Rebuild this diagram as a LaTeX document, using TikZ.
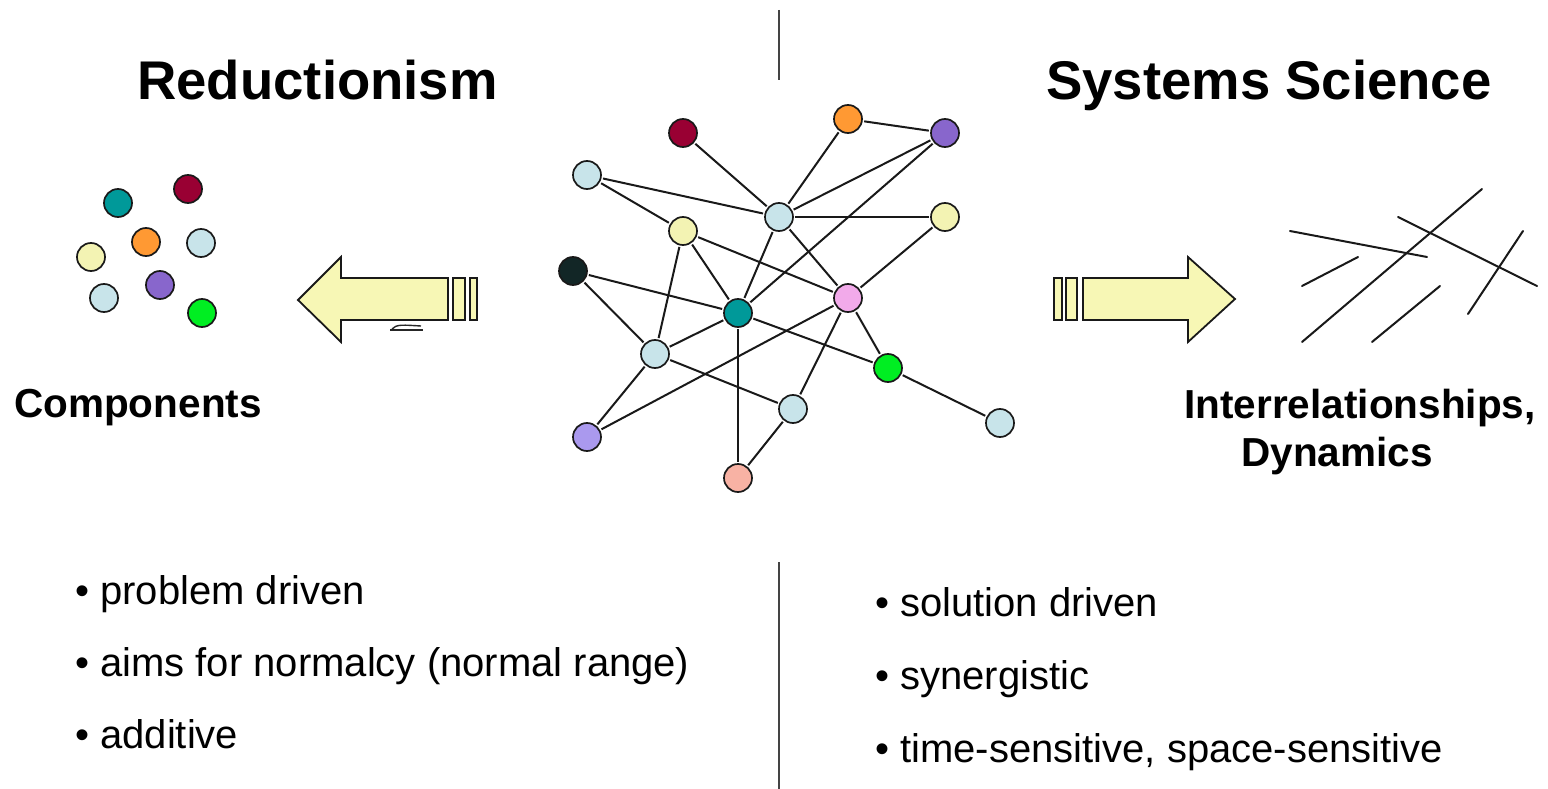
\documentclass[tikz,border=0pt]{standalone}
\usepackage{fontspec}
\setmainfont{Liberation Sans}
\definecolor{cMaroon}{HTML}{990033}
\definecolor{cOrange}{HTML}{FF9933}
\definecolor{cPurple}{HTML}{8866CC}
\definecolor{cLblue}{HTML}{C8E4EA}
\definecolor{cYellow}{HTML}{F3F3B3}
\definecolor{cBlack}{HTML}{122626}
\definecolor{cTeal}{HTML}{009999}
\definecolor{cPink}{HTML}{F2AAEA}
\definecolor{cGreen}{HTML}{00EE22}
\definecolor{cLav}{HTML}{AA99EE}
\definecolor{cSalmon}{HTML}{F8B2A4}
\definecolor{cArrow}{HTML}{F7F7B5}
\definecolor{cDiv}{HTML}{444444}
\begin{document}
\begin{tikzpicture}[x=1pt,y=-1pt,
  dot/.style={circle,draw=black!90,line width=1.7pt,minimum size=28pt,inner sep=0pt},
  link/.style={line width=2pt,draw=black!90,shorten >=1.5pt,shorten <=1.5pt},
  sketchline/.style={line width=2pt,draw=black!90,line cap=round},
  divider/.style={line width=2pt,draw=cDiv},
  arrowbody/.style={fill=cArrow,draw=black!90,line width=1.8pt,line join=miter},
  titletext/.style={font=\fontsize{54.5}{60}\selectfont\bfseries,anchor=base,inner sep=0pt},
  labeltext/.style={font=\fontsize{40.5}{48}\selectfont\bfseries,anchor=base,inner sep=0pt},
  bullettext/.style={font=\fontsize{40}{46}\selectfont,anchor=base west,inner sep=0pt}]
\useasboundingbox (0,0) rectangle (1548,789);
\fill[white] (0,0) rectangle (1548,789);

% dividers
\coordinate (dTop1) at (779,10);
\coordinate (dTop2) at (779,80);
\coordinate (dBot1) at (779,562);
\coordinate (dBot2) at (779,789);
\draw[divider] (dTop1) -- (dTop2);
\draw[divider] (dBot1) -- (dBot2);

% titles
\node[titletext] (tRed) at (317.5,100) {Reductionism};
\node[titletext] (tSys) at (1269,100) {Systems Science};
\node[labeltext] (lComp) at (138,417) {Components};
\node[labeltext] (lInter) at (1360,418) {Interrelationships,};
\node[labeltext] (lDyn) at (1337,466) {Dynamics};

% left cluster
\node[dot,fill=cTeal]   (c1) at (118,203) {};
\node[dot,fill=cMaroon] (c2) at (188,189) {};
\node[dot,fill=cOrange] (c3) at (146,242) {};
\node[dot,fill=cLblue]  (c4) at (201,243) {};
\node[dot,fill=cYellow] (c5) at (91,257) {};
\node[dot,fill=cLblue]  (c6) at (104,298) {};
\node[dot,fill=cPurple] (c7) at (160,285) {};
\node[dot,fill=cGreen]  (c8) at (202,313) {};

% left arrow
\draw[arrowbody] (298,300) -- (341,257) -- (341,278) -- (448,278) -- (448,320) -- (341,320) -- (341,342) -- cycle;
\draw[arrowbody] (453,278) rectangle (465,320);
\draw[arrowbody] (470,278) rectangle (477,320);
\draw[line width=1.4pt,black!85] (390,330) -- (423,330);
\draw[line width=1.4pt,black!85] (392,329) .. controls (396,324) and (404,325) .. (421,326);

% right arrow
\draw[arrowbody] (1054,278) rectangle (1062,320);
\draw[arrowbody] (1066,278) rectangle (1077,320);
\draw[arrowbody] (1083,278) -- (1188,278) -- (1188,257) -- (1235,299) -- (1188,342) -- (1188,320) -- (1083,320) -- cycle;

% right sketch
\coordinate (s1a) at (1290,231); \coordinate (s1b) at (1427,257);
\coordinate (s2a) at (1398,217); \coordinate (s2b) at (1537,286);
\coordinate (s3a) at (1482,189); \coordinate (s3b) at (1302,342);
\coordinate (s4a) at (1358,257); \coordinate (s4b) at (1302,286);
\coordinate (s5a) at (1440,286); \coordinate (s5b) at (1372,342);
\coordinate (s6a) at (1523,231); \coordinate (s6b) at (1468,314);
\draw[sketchline] (s1a) -- (s1b);
\draw[sketchline] (s2a) -- (s2b);
\draw[sketchline] (s3a) -- (s3b);
\draw[sketchline] (s4a) -- (s4b);
\draw[sketchline] (s5a) -- (s5b);
\draw[sketchline] (s6a) -- (s6b);

% network nodes
\node[dot,fill=cMaroon] (m)   at (683,133) {};
\node[dot,fill=cOrange] (o)   at (848,119) {};
\node[dot,fill=cPurple] (pu)  at (945,133) {};
\node[dot,fill=cLblue]  (tl)  at (587,175) {};
\node[dot,fill=cLblue]  (hub) at (779,217) {};
\node[dot,fill=cYellow] (yr)  at (945,217) {};
\node[dot,fill=cYellow] (yl)  at (683,231) {};
\node[dot,fill=cBlack]  (bk)  at (573,271) {};
\node[dot,fill=cTeal]   (te)  at (738,313) {};
\node[dot,fill=cPink]   (pk)  at (848,298) {};
\node[dot,fill=cLblue]  (ml)  at (655,354) {};
\node[dot,fill=cGreen]  (gr)  at (888,368) {};
\node[dot,fill=cLblue]  (bc)  at (793,409) {};
\node[dot,fill=cLav]    (lv)  at (587,437) {};
\node[dot,fill=cLblue]  (fr)  at (1000,423) {};
\node[dot,fill=cSalmon] (sa)  at (738,478) {};

% network edges
\foreach \a/\b in {m/hub,o/pu,o/hub,pu/hub,pu/te,tl/hub,tl/yl,yl/pk,hub/yr,hub/te,hub/pk,pk/gr,yr/pk,yl/te,yl/ml,bk/te,bk/ml,te/ml,te/sa,te/gr,pk/lv,pk/bc,ml/bc,ml/lv,bc/sa,gr/fr}
  \draw[link] (\a) -- (\b);

% bullets
\node[bullettext] (b1) at (75,604) {• problem driven};
\node[bullettext] (b2) at (75,676) {• aims for normalcy (normal range)};
\node[bullettext] (b3) at (75,748) {• additive};
\node[bullettext] (b4) at (875,616) {• solution driven};
\node[bullettext] (b5) at (875,689) {• synergistic};
\node[bullettext] (b6) at (875,762) {• time-sensitive, space-sensitive};
\end{tikzpicture}
\end{document}
